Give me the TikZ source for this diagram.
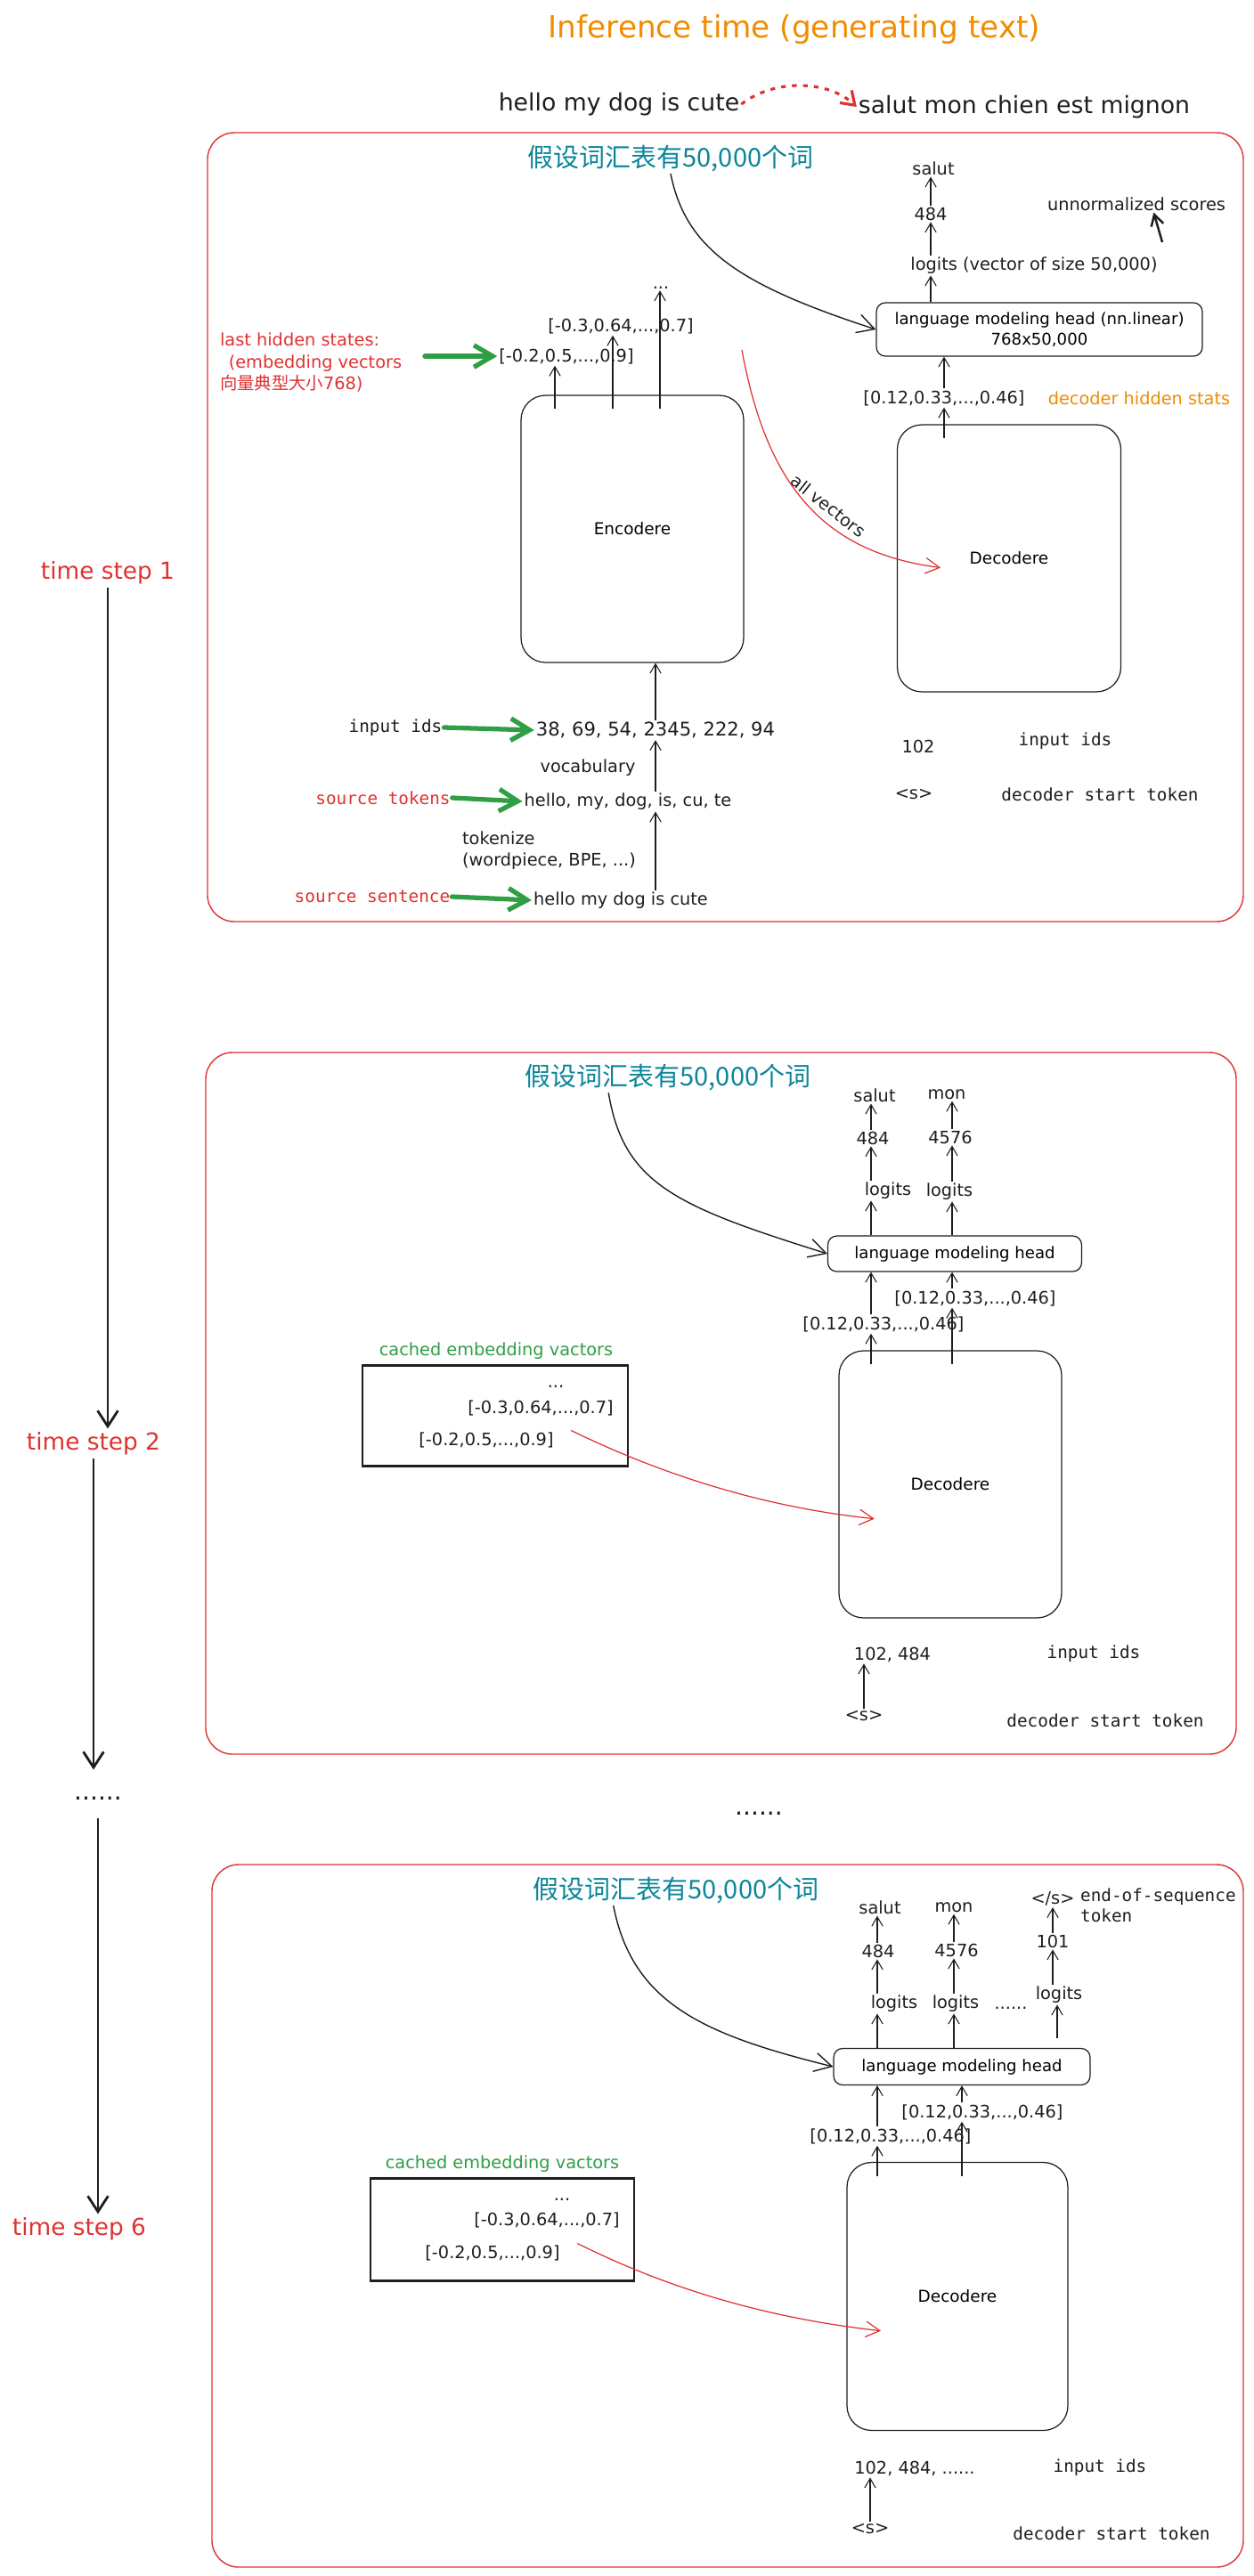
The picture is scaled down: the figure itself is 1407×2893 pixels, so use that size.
\documentclass[tikz,border=0pt]{standalone}
\usepackage{fontspec}
\setmainfont{DejaVu Sans}
\setmonofont{DejaVu Sans Mono}
\newfontfamily\cjk{Noto Sans CJK SC}
\usetikzlibrary{arrows.meta}
\definecolor{ink}{HTML}{1E1E1E}
\definecolor{xred}{HTML}{E03131}
\definecolor{xgreen}{HTML}{2F9E44}
\definecolor{xorange}{HTML}{F08C00}
\definecolor{xteal}{HTML}{0C8599}
\tikzset{
  panel/.style={draw=xred,line width=0.8pt,rounded corners=0.6cm},
  blk/.style={draw=ink,line width=0.7pt,rounded corners=0.55cm,minimum width=5cm,minimum height=6cm,font=\fontsize{10.5}{13}\selectfont},
  headbox/.style={draw=ink,line width=0.7pt,rounded corners=0.2cm,align=center,font=\fontsize{10.3}{13}\selectfont,inner sep=2pt},
  cachebox/.style={draw=ink,line width=1.5pt},
  lbl/.style={font=\fontsize{11}{13}\selectfont,text=ink,inner sep=1pt},
  mlbl/.style={font=\ttfamily\fontsize{11}{13}\selectfont,text=ink,inner sep=1pt},
  cn/.style={font=\cjk\fontsize{16.5}{19}\selectfont,text=xteal,inner sep=1pt},
  tstep/.style={font=\fontsize{15}{18}\selectfont,text=xred,inner sep=2pt},
  bigtxt/.style={font=\fontsize{15.2}{18}\selectfont,text=ink,inner sep=1pt},
  arr/.style={draw=ink,line width=0.6pt,-{Straight Barb[length=6pt,width=7pt]}},
  tarr/.style={draw=ink,line width=1.6pt,-{Straight Barb[length=10pt,width=13pt]}},
  garr/.style={draw=xgreen,line width=3pt,line cap=round,-{Straight Barb[length=12pt,width=14pt]}},
  rarr/.style={draw=xred,line width=0.7pt,-{Straight Barb[length=9pt,width=10pt]}},
  carr/.style={draw=ink,line width=0.8pt,-{Straight Barb[length=11pt,width=12pt]}},
}
\begin{document}
\begin{tikzpicture}[x=0.02cm,y=-0.02cm]
  \useasboundingbox (0,0) rectangle (1407,2893);
  \node[font=\fontsize{19.5}{23}\selectfont,text=xorange] (title) at (892,33) {Inference time (generating text)};
  \node[bigtxt] (srcs) at (695,117) {hello my dog is cute};
  \node[bigtxt] (tgts) at (1150,120) {salut mon chien est mignon};
  \draw[xred,line width=1.8pt,dash pattern=on 3pt off 4pt,-{Straight Barb[length=8pt,width=11pt]}] (srcs.east) .. controls (870,88) and (930,90) .. (tgts.west);
  \node[tstep] (ts1) at (121,643) {time step 1};
  \node[tstep] (ts2) at (105,1621) {time step 2};
  \node[font=\fontsize{16}{18}\selectfont,text=ink] (tdots) at (110,2020) {......};
  \node[tstep] (ts6) at (89,2503) {time step 6};
  \node[font=\fontsize{16}{18}\selectfont,text=ink] (mdots) at (852,2037) {......};
  \draw[tarr] (ts1.south) -- (ts1.south |- ts2.north);
  \draw[tarr,shorten >=14pt] (ts2.south) -- (ts2.south |- tdots.north);
  \draw[tarr,shorten <=8pt] (tdots.south) -- (tdots.south |- ts6.north);
  \draw[panel] (233,149) rectangle (1396,1035);
  \draw[panel] (231,1182) rectangle (1388,1970);
  \draw[panel] (238,2094) rectangle (1396,2883);
  \node[cn] (cn1) at (753,178) {假设词汇表有50,000个词};
  \node[blk] (enc) at (710,594) {Encodere};
  \node[blk,minimum width=5.02cm] (dec1) at (1133,627) {Decodere};
  \node[headbox,minimum width=7.32cm,minimum height=1.2cm] (lmh1) at (1167,370) {language modeling head (nn.linear)\\768x50,000};
  \node[lbl] (lg1) at (1161,298) {logits (vector of size 50,000)};
  \node[lbl] (id484) at (1045,240) {484};
  \node[lbl] (salut1) at (1048,189) {salut};
  \node[lbl] (unnorm) at (1276,229) {unnormalized scores};
  \node[lbl] (hid1) at (1060,447) {[0.12,0.33,...,0.46]};
  \node[lbl,text=xorange] (dhs) at (1279,447) {decoder hidden stats};
  \node[lbl] (edots) at (742,323) {...};
  \node[lbl] (va1) at (697,366) {[-0.3,0.64,...,0.7]};
  \node[lbl] (vb1) at (636,400) {[-0.2,0.5,...,0.9]};
  \node[lbl,text=xred,align=left,anchor=west,font=\fontsize{11}{14}\selectfont] (lhs) at (245,407) {last hidden states:\\\hspace{0.5em}(embedding vectors\\{\cjk 向量典型大小}768)};
  \node[lbl,font=\fontsize{12}{14}\selectfont] (ids1) at (736,820) {38, 69, 54, 2345, 222, 94};
  \node[mlbl] (inp1) at (444,817) {input ids};
  \node[lbl] (vocab) at (660,862) {vocabulary};
  \node[lbl] (tok1) at (705,900) {hello, my, dog, is, cu, te};
  \node[mlbl,text=xred] (srctok) at (430,896) {source tokens};
  \node[lbl,align=left,anchor=west,font=\fontsize{11}{14}\selectfont] (tokz) at (517,955) {tokenize\\(wordpiece, BPE, ...)};
  \node[lbl] (sent1) at (697,1011) {hello my dog is cute};
  \node[mlbl,text=xred] (srcsent) at (418,1007) {source sentence};
  \node[lbl] (d102) at (1031,838) {102};
  \node[mlbl] (inpd1) at (1196,832) {input ids};
  \node[lbl] (bos1) at (1026,892) {<s>};
  \node[mlbl] (dst1) at (1235,892) {decoder start token};
  \node[lbl,rotate=-38] (allv) at (930,568) {all vectors};
  \coordinate (g1) at (477,400);
  \coordinate (e1) at (623,0);
  \coordinate (e2) at (688,0);
  \coordinate (e3) at (741,0);
  \coordinate (k1) at (1045,0);
  \coordinate (u0) at (1305,272);
  \coordinate (av0) at (833,393);
  \draw[carr] (cn1.south) .. controls (770,280) and (830,320) .. (lmh1.west);
  \draw[garr] (g1) -- (vb1.west);
  \draw[garr] (inp1.east) -- (ids1.west);
  \draw[garr] (srctok.east) -- (tok1.west);
  \draw[garr] (srcsent.east) -- (sent1.west);
  \draw[arr] (ids1.north) -- (ids1.north |- enc.south);
  \draw[arr] (tok1.north -| ids1) -- (ids1.south);
  \draw[arr] (sent1.north -| ids1) -- (tok1.south -| ids1);
  \draw[arr,shorten <=-9pt] (enc.north -| e1) -- (vb1.south -| e1);
  \draw[arr,shorten <=-9pt] (enc.north -| e2) -- (va1.south -| e2);
  \draw[arr,shorten <=-9pt] (enc.north -| e3) -- (edots.south -| e3);
  \draw[arr,shorten <=-9pt] (dec1.north -| hid1) -- (hid1.south);
  \draw[arr] (hid1.north) -- (hid1.north |- lmh1.south);
  \draw[arr] (lmh1.north -| k1) -- (lg1.south -| k1);
  \draw[arr] (lg1.north -| k1) -- (id484.south -| k1);
  \draw[arr] (id484.north -| k1) -- (salut1.south -| k1);
  \draw[draw=ink,line width=1.4pt,-{Straight Barb[length=7pt,width=8pt]}] (u0) -- ([xshift=11pt]unnorm.south);
  \draw[rarr] (av0) .. controls (860,540) and (920,620) .. ([xshift=28pt,yshift=-6pt]dec1.west);
  \node[cn] (cn2) at (750,1210) {假设词汇表有50,000个词};
  \node[headbox,minimum width=5.7cm,minimum height=0.8cm] (lmh2) at (1072,1408) {language modeling head};
  \node[lbl] (lg2a) at (997,1337) {logits};
  \node[lbl] (lg2b) at (1066,1338) {logits};
  \node[lbl] (n2a) at (980,1278) {484};
  \node[lbl] (n2b) at (1067,1277) {4576};
  \node[lbl] (w2a) at (982,1230) {salut};
  \node[lbl] (w2b) at (1063,1229) {mon};
  \node[lbl] (hid2u) at (1095,1458) {[0.12,0.33,...,0.46]};
  \node[lbl] (hid2l) at (992,1487) {[0.12,0.33,...,0.46]};
  \node[blk] (dec2) at (1067,1667) {Decodere};
  \node[cachebox,minimum width=5.96cm,minimum height=2.26cm] (cache2) at (556,1590) {};
  \node[lbl,text=xgreen] (cc2) at (557,1517) {cached embedding vactors};
  \node[lbl] (cd2) at (624,1557) {...};
  \node[lbl] (cva2) at (607,1581) {[-0.3,0.64,...,0.7]};
  \node[lbl] (cvb2) at (546,1617) {[-0.2,0.5,...,0.9]};
  \node[lbl] (in2) at (1002,1858) {102, 484};
  \node[mlbl] (inp2) at (1228,1857) {input ids};
  \node[lbl] (bos2) at (970,1927) {<s>};
  \node[mlbl] (dst2) at (1241,1932) {decoder start token};
  \coordinate (p2a) at (978,0);
  \coordinate (p2b) at (1069,0);
  \draw[carr] ([xshift=-38pt]cn2.south) .. controls (700,1330) and (760,1355) .. (lmh2.west);
  \draw[arr] (lmh2.north -| p2a) -- (lg2a.south -| p2a);
  \draw[arr] (lg2a.north -| p2a) -- (n2a.south -| p2a);
  \draw[arr] (n2a.north -| p2a) -- (w2a.south -| p2a);
  \draw[arr] (lmh2.north -| p2b) -- (lg2b.south -| p2b);
  \draw[arr] (lg2b.north -| p2b) -- (n2b.south -| p2b);
  \draw[arr] (n2b.north -| p2b) -- (w2b.south -| p2b);
  \draw[arr] (hid2l.north -| p2a) -- (lmh2.south -| p2a);
  \draw[arr] (hid2u.north -| p2b) -- (lmh2.south -| p2b);
  \draw[arr,shorten <=-9pt] (dec2.north -| p2a) -- (hid2l.south -| p2a);
  \draw[arr,shorten <=-9pt] (dec2.north -| p2b) -- (hid2u.south -| p2b);
  \draw[rarr] ([xshift=10pt,yshift=6pt]cvb2.east) .. controls (710,1640) and (830,1690) .. ([xshift=23pt,yshift=-22pt]dec2.west);
  \draw[arr] (bos2.north) -- (bos2.north |- in2.south);
  \node[cn] (cn3) at (759,2123) {假设词汇表有50,000个词};
  \node[headbox,minimum width=5.76cm,minimum height=0.82cm] (lmh3) at (1080,2321) {language modeling head};
  \node[lbl] (lg3a) at (1004,2250) {logits};
  \node[lbl] (lg3b) at (1073,2250) {logits};
  \node[lbl] (ldots) at (1135,2255) {......};
  \node[lbl] (lg3c) at (1189,2240) {logits};
  \node[lbl] (n3a) at (986,2191) {484};
  \node[lbl] (n3b) at (1074,2190) {4576};
  \node[lbl] (n3c) at (1182,2180) {101};
  \node[lbl] (w3a) at (988,2142) {salut};
  \node[lbl] (w3b) at (1071,2142) {mon};
  \node[lbl] (eos) at (1182,2132) {</s>};
  \node[mlbl,align=left,anchor=west,font=\ttfamily\fontsize{11}{13}\selectfont] (eostxt) at (1211,2140) {end-of-sequence\\token};
  \node[lbl] (hid3u) at (1103,2372) {[0.12,0.33,...,0.46]};
  \node[lbl] (hid3l) at (1000,2399) {[0.12,0.33,...,0.46]};
  \node[blk,minimum width=4.96cm,minimum height=6.02cm] (dec3) at (1075,2579) {Decodere};
  \node[cachebox,minimum width=5.92cm,minimum height=2.3cm] (cache3) at (564,2504) {};
  \node[lbl,text=xgreen] (cc3) at (564,2430) {cached embedding vactors};
  \node[lbl] (cd3) at (631,2470) {...};
  \node[lbl] (cva3) at (614,2493) {[-0.3,0.64,...,0.7]};
  \node[lbl] (cvb3) at (553,2530) {[-0.2,0.5,...,0.9]};
  \node[lbl] (in3) at (1027,2772) {102, 484, ......};
  \node[mlbl] (inp3) at (1235,2771) {input ids};
  \node[lbl] (bos3) at (977,2840) {<s>};
  \node[mlbl] (dst3) at (1248,2845) {decoder start token};
  \coordinate (p3a) at (985,0);
  \coordinate (p3b) at (1071,0);
  \coordinate (p3c) at (1080,0);
  \coordinate (p3e) at (1187,0);
  \draw[carr] ([xshift=-40pt]cn3.south) .. controls (710,2250) and (790,2285) .. (lmh3.west);
  \draw[arr] (lmh3.north -| p3a) -- (lg3a.south -| p3a);
  \draw[arr] (lg3a.north -| p3a) -- (n3a.south -| p3a);
  \draw[arr] (n3a.north -| p3a) -- (w3a.south -| p3a);
  \draw[arr] (lmh3.north -| p3b) -- (lg3b.south -| p3b);
  \draw[arr] (lg3b.north -| p3b) -- (n3b.south -| p3b);
  \draw[arr] (n3b.north -| p3b) -- (w3b.south -| p3b);
  \draw[arr,shorten <=6pt] (lmh3.north -| p3e) -- (lg3c.south -| p3e);
  \draw[arr] (lg3c.north -| n3c) -- (n3c.south);
  \draw[arr] (n3c.north) -- (eos.south);
  \draw[arr] (hid3l.north -| p3a) -- (lmh3.south -| p3a);
  \draw[arr] (hid3u.north -| p3c) -- (lmh3.south -| p3c);
  \draw[arr,shorten <=-9pt] (dec3.north -| p3a) -- (hid3l.south -| p3a);
  \draw[arr,shorten <=-9pt] (dec3.north -| p3c) -- (hid3u.south -| p3c);
  \draw[rarr] ([xshift=10pt,yshift=6pt]cvb3.east) .. controls (720,2555) and (830,2600) .. ([xshift=22pt,yshift=-22pt]dec3.west);
  \draw[arr] (bos3.north) -- (bos3.north |- in3.south);
\end{tikzpicture}
\end{document}
